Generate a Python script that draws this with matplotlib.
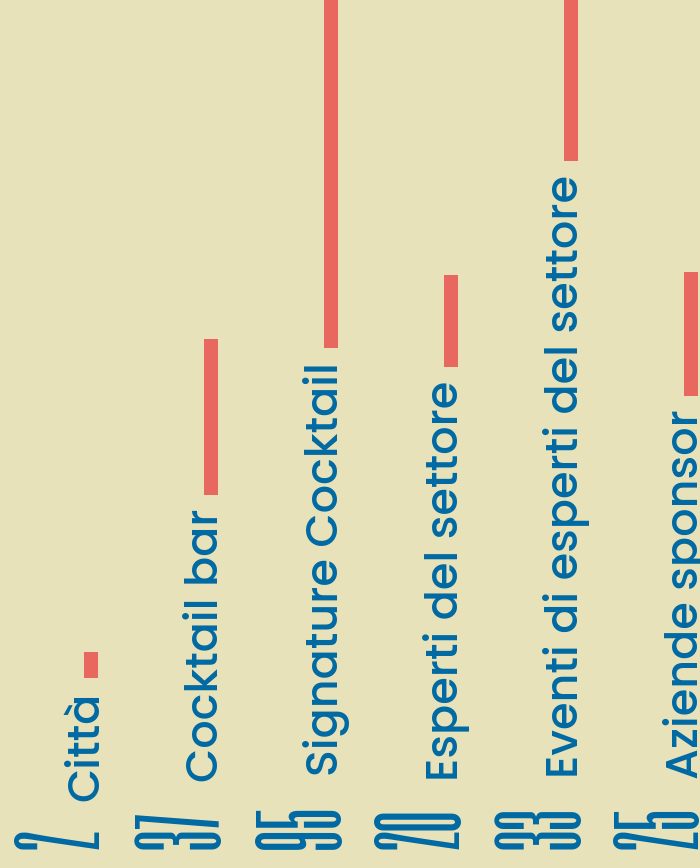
import matplotlib
matplotlib.use("Agg")
import matplotlib.pyplot as plt

# ---- data ----
categories = ["Città", "Cocktail bar", "Signature Cocktail", "Esperti del settore",
              "Eventi di esperti del settore", "Aziende sponsor"]
values = [2, 37, 95, 20, 33, 25]
bar_sizes = [26, 156, 371, 92, 170, 124]

BG = "#E7E2B9"
BLUE = "#0069A3"
RED = "#E8675E"

NUM_FONT = ["Six Caps", "League Gothic", "DejaVu Sans"]
LAB_FONT = ["Poppins", "DejaVu Sans"]

W, H = 700, 868
fig = plt.figure(figsize=(W / 100, H / 100), dpi=100, facecolor=BG)
ax = fig.add_axes([0, 0, 1, 1])
ax.set_xlim(0, W)
ax.set_ylim(H, 0)
ax.axis("off")
ax.set_facecolor(BG)

renderer = fig.canvas.get_renderer()
inv = ax.transData.inverted()

def top_of(t):
    bb = t.get_window_extent(renderer)
    (xa, ya), (xb_, yb) = inv.transform([(bb.x0, bb.y0), (bb.x1, bb.y1)])
    return min(ya, yb)

x0 = 98
step = 120
for i, (cat, v, b) in enumerate(zip(categories, values, bar_sizes)):
    xb = x0 + step * i
    tn = ax.text(xb, 849, str(v), rotation=90, rotation_mode="anchor",
                 ha="left", va="baseline", color=BLUE, fontsize=71,
                 family=NUM_FONT)
    ntop = top_of(tn)
    tl = ax.text(xb, ntop - 28, cat, rotation=90, rotation_mode="anchor",
                 ha="left", va="baseline", color=BLUE, fontsize=32,
                 family=LAB_FONT, weight="medium")
    ltop = top_of(tl)
    start = ltop - 14
    ax.bar(xb - 7, -b, bottom=start, width=14, color=RED, linewidth=0)

fig.savefig("out.png", dpi=100, facecolor=BG)
